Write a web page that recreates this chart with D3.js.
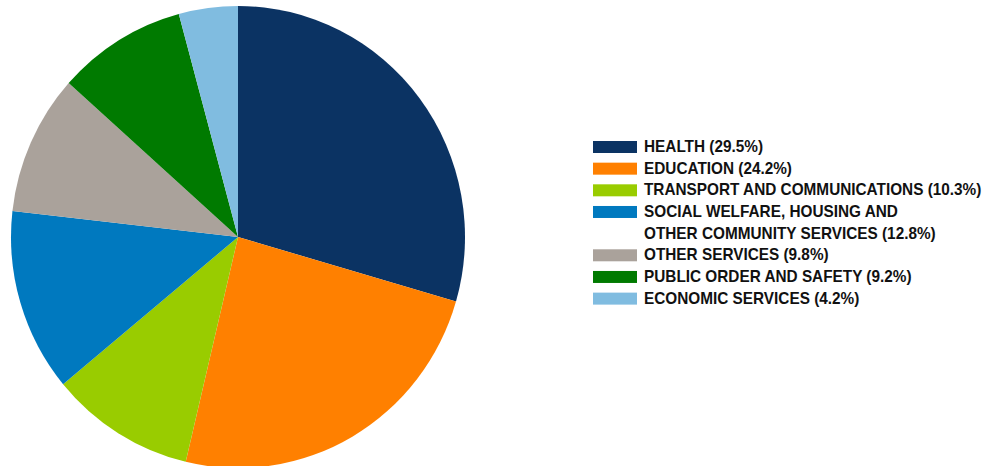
<!DOCTYPE html>
<html>
<head>
<meta charset="utf-8">
<script src="https://cdn.jsdelivr.net/npm/d3@7"></script>
<style>
  body { margin: 0; background: #fff; }
  svg { display: block; }
</style>
</head>
<body>
<svg id="chart" width="994" height="466"></svg>
<script>
var width = 994;
var height = 466;

// data, clockwise from 12 o'clock
var categories = ["HEALTH", "EDUCATION", "TRANSPORT AND COMMUNICATIONS",
  "SOCIAL WELFARE, HOUSING AND|OTHER COMMUNITY SERVICES", "OTHER SERVICES",
  "PUBLIC ORDER AND SAFETY", "ECONOMIC SERVICES"];
var shares = [29.5, 24.2, 10.3, 12.8, 9.8, 9.2, 4.2];
var colors = ["#0b3363", "#ff8000", "#99cc00", "#0079bf", "#aaa29b", "#007a00", "#80bce0"];

var cx = 238, cy = 237, radius = 227;

var svg = d3.select("#chart");

var pie = d3.pie().sort(null).value(function(d){ return d; });
var arc = d3.arc().innerRadius(0).outerRadius(radius);

// the original pie is a touch taller than wide
var slices = svg.append("g").attr("transform", "translate(" + cx + "," + cy + ") scale(1,1.018)");
slices.selectAll("path").data(pie(shares)).enter().append("path")
  .attr("d", arc)
  .attr("fill", function(d, i){ return colors[i]; });

// legend
var legX = 593, legY = 152, lineH = 21.66;
var squeeze = 0.93; // narrow bold face in the original
var legend = svg.append("g").attr("font-family", "'Liberation Sans', Arial, sans-serif")
  .attr("font-weight", "bold").attr("font-size", 16.5).attr("fill", "#111");

var row = 0;
categories.forEach(function(c, i){
  var lines = c.split("|");
  lines[lines.length - 1] += " (" + shares[i].toFixed(1) + "%)";
  var y = legY + row * lineH;
  legend.append("rect")
    .attr("x", legX).attr("y", y - 11)
    .attr("width", 44).attr("height", 12)
    .attr("fill", colors[i]);
  lines.forEach(function(l, j){
    legend.append("text")
      .attr("transform", "translate(" + (legX + 51) + "," + (y + j * lineH) + ") scale(" + squeeze + ",1)")
      .text(l);
  });
  row += lines.length;
});
</script>
</body>
</html>
